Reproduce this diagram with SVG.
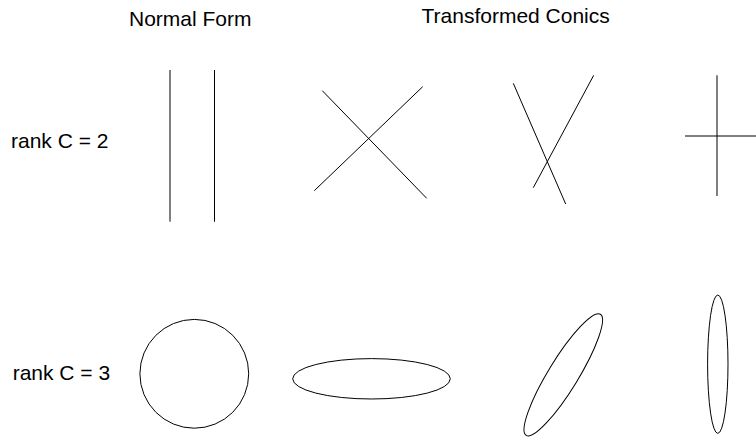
<svg xmlns="http://www.w3.org/2000/svg" width="756" height="439" viewBox="0 0 756 439">
<style>
text{font-family:"Liberation Sans",Arial,Helvetica,sans-serif;font-size:21px;fill:#000}
.c{fill:none;stroke:#000;stroke-width:1}
</style>
<rect width="756" height="439" fill="#fff"/>
<g id="headers">
<text x="129" y="25.5">Normal Form</text>
<text x="421.5" y="22.5">Transformed Conics</text>
</g>
<g id="labels">
<text x="11" y="148.3">rank C = 2</text>
<text x="12.7" y="380">rank C = 3</text>
</g>
<g id="rank2-normal">
<line class="c" x1="170" y1="70" x2="170" y2="221.7"/>
<line class="c" x1="214.5" y1="70" x2="214.5" y2="221.7"/>
</g>
<g id="rank2-cross">
<line class="c" x1="322.3" y1="90.7" x2="426.7" y2="198.3"/>
<line class="c" x1="422.7" y1="86.7" x2="314.3" y2="190.7"/>
</g>
<g id="rank2-skew">
<line class="c" x1="513.3" y1="83.3" x2="565.7" y2="204"/>
<line class="c" x1="593.7" y1="75.3" x2="533.3" y2="187.7"/>
</g>
<g id="rank2-plus">
<line class="c" x1="717" y1="75.3" x2="717" y2="196"/>
<line class="c" x1="685" y1="136" x2="756" y2="136"/>
</g>
<g id="rank3-circle">
<circle class="c" cx="194.3" cy="373.8" r="54.4"/>
</g>
<g id="rank3-flat">
<ellipse class="c" cx="371.5" cy="378.8" rx="78.8" ry="20.2"/>
</g>
<g id="rank3-tilted">
<ellipse class="c" cx="563.3" cy="374.8" rx="71" ry="15" transform="rotate(-58.5 563.3 374.8)"/>
</g>
<g id="rank3-tall">
<ellipse class="c" cx="717.8" cy="364.2" rx="10.2" ry="69.2"/>
</g>
</svg>
